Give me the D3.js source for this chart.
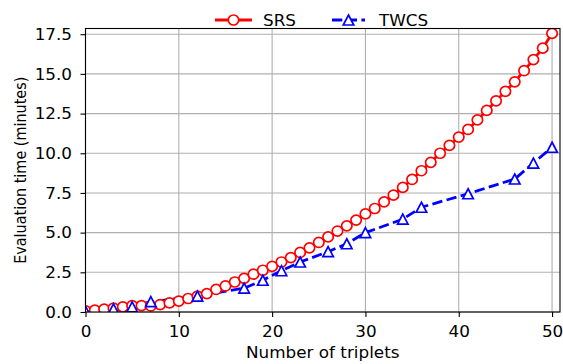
<!DOCTYPE html>
<html>
<head>
<meta charset="utf-8">
<script src="https://cdn.jsdelivr.net/npm/d3@7"></script>
<style>
  body { margin: 0; background: #fff; }
  text { font-family: "DejaVu Sans", sans-serif; }
</style>
</head>
<body>
<div id="chart"></div>
<script>
// data
const srsX = d3.range(0, 51); // one point per triplet count
const srsY = [0.08, 0.12, 0.18, 0.24, 0.32, 0.40, 0.40, 0.38, 0.47, 0.57,
  0.69, 0.85, 1.00, 1.16, 1.42, 1.64, 1.89, 2.12, 2.38, 2.63,
  2.88, 3.15, 3.43, 3.75, 4.04, 4.38, 4.73, 5.10, 5.43, 5.79,
  6.18, 6.52, 6.94, 7.36, 7.85, 8.35, 8.90, 9.43, 10.00, 10.50,
  11.02, 11.50, 12.10, 12.70, 13.30, 13.90, 14.50, 15.20, 15.90, 16.62, 17.55];
const twcsX = [0, 3, 5, 7, 12, 17, 19, 21, 23, 26, 28, 30, 34, 36, 41, 46, 48, 50];
const twcsY = [0.05, 0.2, 0.32, 0.65, 1.0, 1.5, 2.0, 2.6, 3.15, 3.8, 4.3, 5.0, 5.85, 6.6, 7.45, 8.38, 9.38, 10.38];
const xTicks = [0, 10, 20, 30, 40, 50];
const yTicks = [0, 2.5, 5, 7.5, 10, 12.5, 15, 17.5];

const width = 563, height = 364;
const margin = { top: 28.5, right: 3, bottom: 52, left: 85.5 };
const fs = 16, sx = 1.05; // text is a bit wide in the reference

const svg = d3.select("#chart").append("svg")
  .attr("width", width).attr("height", height);

const x = d3.scaleLinear().domain([0, 50.85]).range([margin.left, width - margin.right]);
const y = d3.scaleLinear().domain([0, 17.86]).range([height - margin.bottom, margin.top]);

// grid
svg.append("g").selectAll("line").data(xTicks).join("line")
  .attr("x1", d => x(d)).attr("x2", d => x(d))
  .attr("y1", y.range()[0]).attr("y2", y.range()[1])
  .attr("stroke", "#b0b0b0").attr("stroke-width", 1.1);
svg.append("g").selectAll("line").data(yTicks).join("line")
  .attr("x1", x.range()[0]).attr("x2", x.range()[1])
  .attr("y1", d => y(d)).attr("y2", d => y(d))
  .attr("stroke", "#b0b0b0").attr("stroke-width", 1.1);

// axes
const xAxis = svg.append("g")
  .attr("transform", `translate(0,${height - margin.bottom})`)
  .call(d3.axisBottom(x).tickValues(xTicks).tickSize(5).tickPadding(9).tickFormat(d3.format("d")));
const yAxis = svg.append("g")
  .attr("transform", `translate(${margin.left},0)`)
  .call(d3.axisLeft(y).tickValues(yTicks).tickSize(5).tickPadding(4).tickFormat(d3.format(".1f")));
[xAxis, yAxis].forEach(g => {
  g.select(".domain").remove();
  g.selectAll("text").attr("font-size", fs).attr("fill", "#000")
    .attr("font-family", "DejaVu Sans");
  g.selectAll("line").attr("stroke", "#000").attr("stroke-width", 1.1);
});
xAxis.selectAll("text").attr("transform", `scale(${sx},1)`);
yAxis.selectAll("text").attr("x", -13.5 / sx).attr("transform", `scale(${sx},1)`);

// clipped plot area
svg.append("clipPath").attr("id", "clip").append("rect")
  .attr("x", x.range()[0]).attr("y", y.range()[1])
  .attr("width", x.range()[1] - x.range()[0]).attr("height", y.range()[0] - y.range()[1]);
const plot = svg.append("g").attr("clip-path", "url(#clip)");

const line = d3.line().x(d => x(d[0])).y(d => y(d[1]));
const srs = srsX.map((v, i) => [v, srsY[i]]);
const twcs = twcsX.map((v, i) => [v, twcsY[i]]);

const triPath = s => `M0,${-s}L${s * 1.05},${s}L${-s * 1.05},${s}Z`;

plot.append("path").datum(twcs).attr("d", line)
  .attr("fill", "none").attr("stroke", "#0000ff").attr("stroke-width", 2.8)
  .attr("stroke-dasharray", "10.3,4.4");
plot.append("path").datum(srs).attr("d", line)
  .attr("fill", "none").attr("stroke", "#ff0000").attr("stroke-width", 2.8);

plot.append("g").selectAll("ellipse").data(srs).join("ellipse")
  .attr("cx", d => x(d[0])).attr("cy", d => y(d[1])).attr("rx", 5.2).attr("ry", 5)
  .attr("fill", "#fff").attr("stroke", "#ff0000").attr("stroke-width", 1.7);
plot.append("g").selectAll("path").data(twcs).join("path")
  .attr("transform", d => `translate(${x(d[0])},${y(d[1])})`)
  .attr("d", triPath(5))
  .attr("fill", "#fff").attr("stroke", "#0000ff").attr("stroke-width", 1.7);

// frame
svg.append("rect")
  .attr("x", x.range()[0]).attr("y", y.range()[1])
  .attr("width", x.range()[1] - x.range()[0]).attr("height", y.range()[0] - y.range()[1])
  .attr("fill", "none").attr("stroke", "#000").attr("stroke-width", 1.1);

// axis labels
svg.append("text")
  .attr("transform", `translate(${(x.range()[0] + x.range()[1]) / 2},358) scale(${sx},1)`)
  .attr("text-anchor", "middle").attr("font-size", fs).text("Number of triplets");
svg.append("text")
  .attr("transform", `translate(26,${(y.range()[0] + y.range()[1]) / 2}) scale(1,0.9) rotate(-90)`)
  .attr("text-anchor", "middle").attr("font-size", fs).text("Evaluation time (minutes)");

// legend
const legend = svg.append("g");
const ly = 20;
legend.append("line").attr("x1", 215).attr("x2", 252).attr("y1", ly).attr("y2", ly)
  .attr("stroke", "#ff0000").attr("stroke-width", 2.8);
legend.append("ellipse").attr("cx", 233.5).attr("cy", ly).attr("rx", 5.2).attr("ry", 5)
  .attr("fill", "#fff").attr("stroke", "#ff0000").attr("stroke-width", 1.7);
legend.append("text").attr("transform", `translate(263,${ly + 5.8}) scale(${sx},1)`)
  .attr("font-size", fs).text("SRS");
legend.append("line").attr("x1", 332).attr("x2", 365).attr("y1", ly).attr("y2", ly)
  .attr("stroke", "#0000ff").attr("stroke-width", 2.8).attr("stroke-dasharray", "10.3,4.4");
legend.append("path").attr("transform", `translate(348.5,${ly})`).attr("d", triPath(5))
  .attr("fill", "#fff").attr("stroke", "#0000ff").attr("stroke-width", 1.7);
legend.append("text").attr("transform", `translate(379,${ly + 5.8}) scale(${sx},1)`)
  .attr("font-size", fs).text("TWCS");
</script>
</body>
</html>
